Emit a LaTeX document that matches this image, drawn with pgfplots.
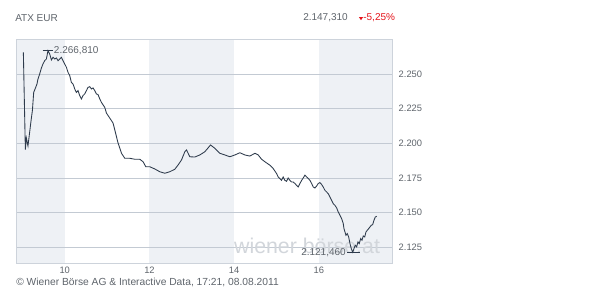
\documentclass[border=0pt]{standalone}
\usepackage{pgfplots}
\pgfplotsset{compat=1.18}
\usepackage{fontspec}
\setmainfont{Liberation Sans}
\definecolor{txt}{HTML}{5F656C}
\definecolor{band}{HTML}{EEF1F5}
\definecolor{gridc}{HTML}{C3CAD3}
\definecolor{framec}{HTML}{CDD3DB}
\definecolor{linec}{HTML}{2E3B4C}
\definecolor{redc}{HTML}{E5141B}
\definecolor{wm}{HTML}{D2D6DB}
\begin{document}
\begin{tikzpicture}
\path[use as bounding box, fill=white] (0,0) rectangle (457.5pt,228.75pt);
\begin{axis}[
  at={(12.5pt,31.3pt)}, anchor=south west,
  scale only axis, width=282pt, height=168.2pt,
  xmin=8.866, xmax=17.741, ymin=2.1135, ymax=2.2752,
  axis on top,
  axis line style={draw=framec, line width=0.6pt},
  xtick={10,12,14,16}, xticklabels={10,12,14,16},
  ytick={2.125,2.150,2.175,2.200,2.225,2.250},
  yticklabels={2.125,2.150,2.175,2.200,2.225,2.250},
  yticklabel pos=right,
  major tick length=0pt,
  tick style={draw=none},
  ticklabel style={font=\fontsize{7}{8}\selectfont, text=txt},
  yticklabel style={xshift=1pt},
  xticklabel style={yshift=1pt},
]
\addplot[fill=band, draw=none] coordinates {(8.866,2.1135) (10,2.1135) (10,2.2752) (8.866,2.2752)} -- cycle;
\addplot[fill=band, draw=none] coordinates {(12,2.1135) (14,2.1135) (14,2.2752) (12,2.2752)} -- cycle;
\addplot[fill=band, draw=none] coordinates {(16,2.1135) (17.741,2.1135) (17.741,2.2752) (16,2.2752)} -- cycle;
\addplot[gridc, line width=0.6pt] coordinates {(8.866,2.125) (17.741,2.125)};
\addplot[gridc, line width=0.6pt] coordinates {(8.866,2.150) (17.741,2.150)};
\addplot[gridc, line width=0.6pt] coordinates {(8.866,2.175) (17.741,2.175)};
\addplot[gridc, line width=0.6pt] coordinates {(8.866,2.200) (17.741,2.200)};
\addplot[gridc, line width=0.6pt] coordinates {(8.866,2.225) (17.741,2.225)};
\addplot[gridc, line width=0.6pt] coordinates {(8.866,2.250) (17.741,2.250)};
\node[text=wm, font=\fontsize{16}{18}\selectfont] at (axis cs:15.72,2.1262) {wiener börse.at};
\addplot[linec, line width=0.65pt] table {
9.024 2.2655
9.071 2.1954
9.095 2.2038
9.133 2.1981
9.213 2.2182
9.237 2.2235
9.268 2.2367
9.315 2.2403
9.346 2.2428
9.369 2.2464
9.409 2.2500
9.450 2.2543
9.487 2.2572
9.528 2.2596
9.568 2.2608
9.605 2.26681
9.646 2.2644
9.686 2.2601
9.724 2.2620
9.764 2.2608
9.804 2.2615
9.842 2.2596
9.882 2.2608
9.922 2.2620
9.960 2.2596
10.000 2.2572
10.040 2.2548
10.078 2.2512
10.118 2.2488
10.158 2.2439
10.196 2.2428
10.236 2.2392
10.276 2.2367
10.314 2.2380
10.354 2.2344
10.395 2.2320
10.432 2.2344
10.472 2.2356
10.513 2.2380
10.550 2.2403
10.591 2.2408
10.631 2.2392
10.669 2.2399
10.709 2.2380
10.749 2.2356
10.787 2.2351
10.827 2.2320
10.867 2.2295
10.945 2.2259
10.985 2.2218
11.063 2.2182
11.141 2.2146
11.181 2.2098
11.259 2.2002
11.340 2.1928
11.418 2.1892
11.536 2.1892
11.654 2.1885
11.772 2.1885
11.850 2.1867
11.914 2.1831
12.008 2.1831
12.126 2.1815
12.244 2.1795
12.362 2.1784
12.480 2.1795
12.599 2.1813
12.677 2.1844
12.757 2.1880
12.835 2.1939
12.875 2.1952
12.953 2.1903
13.071 2.1901
13.189 2.1916
13.307 2.1939
13.442 2.1988
13.544 2.1964
13.662 2.1928
13.780 2.1916
13.898 2.1903
14.016 2.1916
14.134 2.1932
14.252 2.1916
14.370 2.1908
14.489 2.1928
14.567 2.1916
14.647 2.1885
14.725 2.1867
14.843 2.1842
14.921 2.1818
15.001 2.1782
15.039 2.1757
15.079 2.1746
15.119 2.1733
15.157 2.1757
15.197 2.1733
15.237 2.1726
15.275 2.1750
15.315 2.1733
15.356 2.1721
15.393 2.1721
15.434 2.1710
15.474 2.1697
15.512 2.1685
15.552 2.1710
15.592 2.1733
15.630 2.1750
15.670 2.1770
15.710 2.1757
15.748 2.1746
15.788 2.1733
15.829 2.1710
15.866 2.1685
15.906 2.1678
15.946 2.1692
15.984 2.1710
16.024 2.1717
16.064 2.1703
16.102 2.1685
16.142 2.1661
16.182 2.1649
16.220 2.1637
16.260 2.1613
16.300 2.1589
16.338 2.1565
16.378 2.1553
16.419 2.1534
16.456 2.1505
16.497 2.1481
16.537 2.1457
16.575 2.1421
16.591 2.1385
16.615 2.1361
16.638 2.1337
16.669 2.1349
16.702 2.1325
16.733 2.1277
16.764 2.1241
16.797 2.12146
16.828 2.1241
16.858 2.1265
16.891 2.1253
16.922 2.1289
16.953 2.1277
16.986 2.1313
17.017 2.1301
17.047 2.1332
17.081 2.1325
17.111 2.1361
17.142 2.1373
17.175 2.1385
17.205 2.1397
17.236 2.1409
17.269 2.1414
17.300 2.1445
17.331 2.1469
17.364 2.14731
};
\addplot[linec, line width=0.6pt] coordinates {(9.48,2.26681) (9.72,2.26681)};
\addplot[linec, line width=0.6pt] coordinates {(16.67,2.12146) (16.96,2.12146)};
\node[anchor=west, text=txt, font=\fontsize{7.5}{9}\selectfont, inner sep=0pt] at (axis cs:9.74,2.26681) {2.266,810};
\node[anchor=east, text=txt, font=\fontsize{7.5}{9}\selectfont, inner sep=0pt] at (axis cs:16.64,2.12146) {2.121,460};
\end{axis}
\node[anchor=west, text=txt, font=\fontsize{7.5}{9}\selectfont, inner sep=0pt] at (11.25pt,215.25pt) {ATX EUR};
\node[anchor=east, text=txt, font=\fontsize{7.5}{9}\selectfont, inner sep=0pt] at (261pt,215.25pt) {2.147,310};
\fill[redc] (269.2pt,215.9pt) -- (272.3pt,215.9pt) -- (270.75pt,213.6pt) -- cycle;
\node[anchor=west, text=redc, font=\fontsize{7.5}{9}\selectfont, inner sep=0pt] at (272.3pt,215.25pt) {-5,25\%};
\node[anchor=west, text=txt, font=\fontsize{7.7}{9}\selectfont, inner sep=0pt] at (12pt,17.25pt) {© Wiener Börse AG \& Interactive Data, 17:21, 08.08.2011};
\end{tikzpicture}
\end{document}
